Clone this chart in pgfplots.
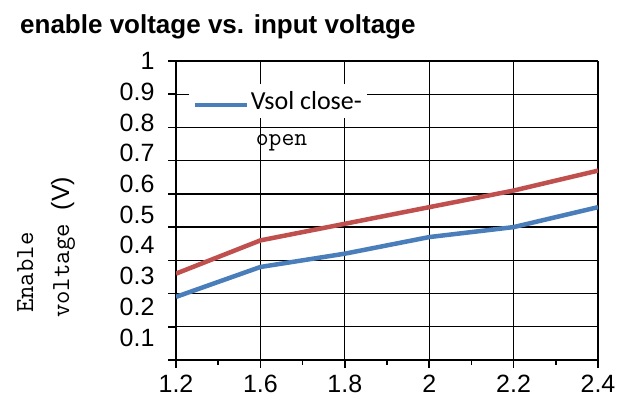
\documentclass[border=0pt]{standalone}
\usepackage{fontspec}
\setmainfont{Liberation Sans}
\newfontfamily\carlito{Carlito}
\usepackage{pgfplots}
\pgfplotsset{compat=1.18}
\definecolor{sblue}{HTML}{4A7EBB}
\definecolor{sred}{HTML}{C0504D}
\begin{document}
\begin{tikzpicture}
\useasboundingbox (0pt,0pt) rectangle (632pt,412pt);
\node[anchor=base west, inner sep=0pt] at (20pt,378pt) {\bfseries\fontsize{26}{26}\selectfont enable voltage vs. input voltage};
\node[rotate=90, anchor=base west, inner sep=0pt] at (33pt,99pt) {\ttfamily\fontsize{26}{26}\selectfont Enable};
\node[rotate=90, anchor=base west, inner sep=0pt] at (69pt,94pt) {\ttfamily\fontsize{26}{26}\selectfont voltage\hspace{14pt}\rmfamily\fontsize{25}{25}\selectfont(V)};
\begin{axis}[
  at={(176pt,52pt)}, anchor=south west,
  scale only axis, width=422pt, height=299pt,
  xmin=0, xmax=5, ymin=0.1, ymax=1,
  xtick={0,1,2,3,4,5}, xticklabels={1.2,1.6,1.8,2,2.2,2.4},
  minor x tick num=1,
  ytick={0.1,0.2,0.3,0.4,0.5,0.6,0.7,0.8,0.9,1},
  yticklabels={0.1,0.2,0.3,0.4,0.5,0.6,0.7,0.8,0.9,1},
  axis x line*=bottom, axis y line*=left,
  axis line style={line width=2pt,-},
  tick align=outside, major tick length=8pt, minor tick length=5pt,
  tick style={black, line width=1.5pt},
  grid=major, major grid style={black, line width=1.3pt},
  tick label style={font=\fontsize{25}{25}\selectfont},
  yticklabel style={xshift=-10pt, yshift={(9-\ticknum)*2.5pt}},
  xticklabel style={yshift=-4pt},
  legend style={at={(0.031,0.923)}, anchor=north west, fill=white, draw=none,
    inner xsep=3pt, inner ysep=5pt},
  legend cell align=left,
  legend image code/.code={\draw[#1] (0pt,-4pt) -- (52pt,-4pt);},
]
\addplot[sblue, line width=4.5pt] coordinates {(0,0.29) (1,0.38) (2,0.42) (3,0.47) (4,0.50) (5,0.56)};
\addlegendentry{\vtop{\baselineskip=36pt \hbox{\carlito\fontsize{26}{26}\selectfont Vsol close-}\hbox{\hspace*{5pt}\ttfamily\fontsize{25}{25}\selectfont open}}}
\addplot[sred, line width=4.5pt, forget plot] coordinates {(0,0.36) (1,0.46) (2,0.51) (3,0.56) (4,0.61) (5,0.67)};
\end{axis}
\end{tikzpicture}
\end{document}
